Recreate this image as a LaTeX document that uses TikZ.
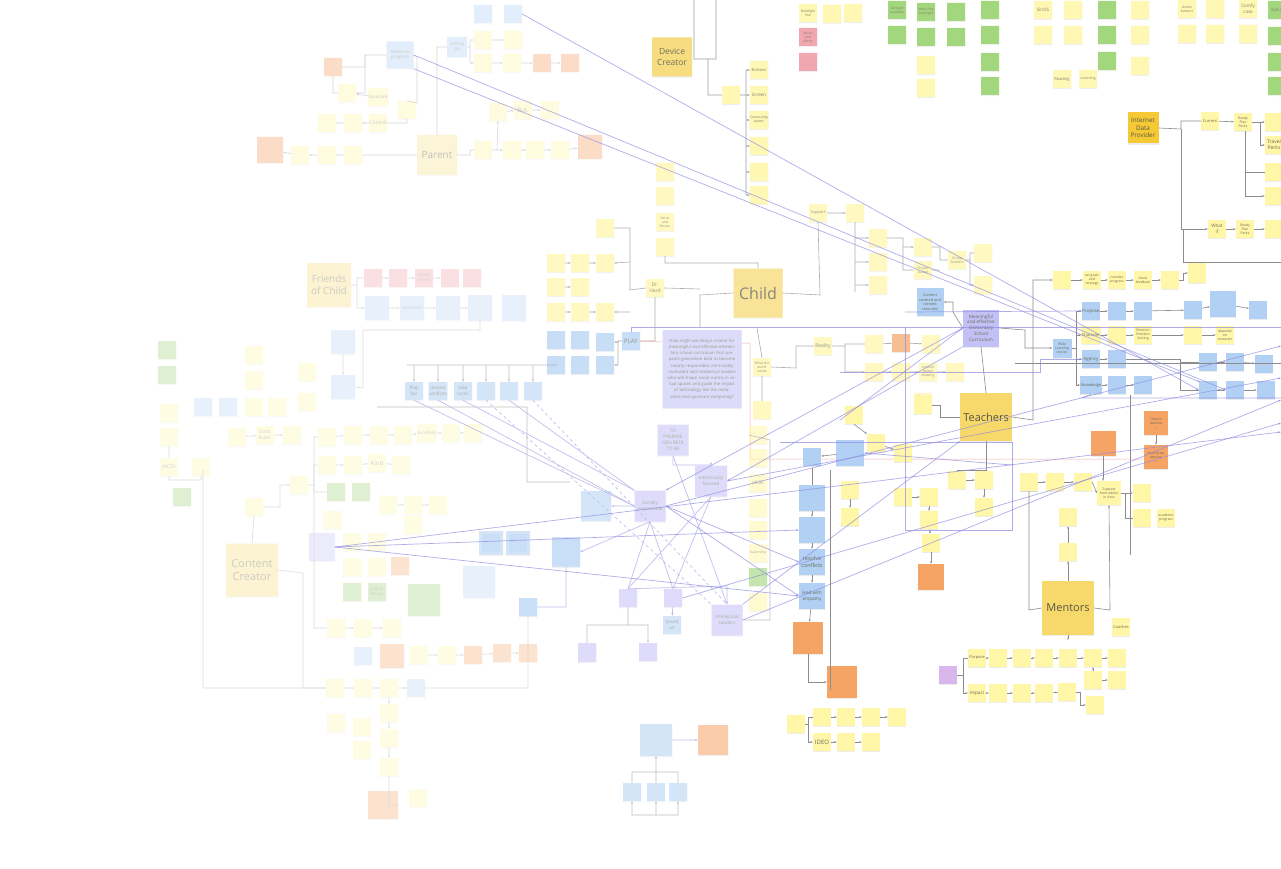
\documentclass[tikz,border=0pt]{standalone}
\usepackage{fontspec}
\setmainfont{Open Sans}
\usepackage{tikz}
\usetikzlibrary{shadows,arrows.meta}

\definecolor{yel}{HTML}{FFF6A8}
\definecolor{gold}{HTML}{F7D86A}
\definecolor{deepgold}{HTML}{F5C935}
\definecolor{blu}{HTML}{B1D0F4}
\definecolor{lav}{HTML}{C3C0F6}
\definecolor{org}{HTML}{F6A366}
\definecolor{grn}{HTML}{94D067}
\definecolor{rd}{HTML}{EF98A3}
\definecolor{pur}{HTML}{D9B6EC}
\definecolor{wiregray}{HTML}{8C8C8C}
\definecolor{vio}{HTML}{8E8BE0}
\definecolor{ink}{HTML}{6B6B55}
\definecolor{redline}{HTML}{F08A8A}

\tikzset{
  note/.style={fill=yel, minimum width=18pt, minimum height=18pt, inner sep=.5pt,
    align=center, text=ink, font=\fontsize{3.4}{3.9}\selectfont,
    drop shadow={opacity=.15,shadow xshift=0pt,shadow yshift=-1.2pt}},
  bnote/.style={note, fill=blu},
  lnote/.style={note, fill=lav},
  onote/.style={note, fill=org},
  gnote/.style={note, fill=grn},
  rnote/.style={note, fill=rd},
  big/.style={note, fill=gold, text=ink!80!black},
  wire/.style={draw=wiregray, line width=.6pt},
  arr/.style={wire, -{Stealth[length=2.5pt]}},
  vline/.style={draw=vio, line width=.7pt},
  varr/.style={vline, -{Stealth[length=3pt]}},
}

\begin{document}
\begin{tikzpicture}[x=1pt,y=-1pt]
\useasboundingbox (0,0) rectangle (1281,869);
\fill[white] (0,0) rectangle (1281,869);

% far left, friends of child, content creator
\begin{scope}[transparency group, opacity=.3]
\node[gnote] (lg1) at (167,350) {};
\node[gnote] (lg2) at (167,375) {};
\node[note] (ly1) at (169,413) {};
\node[note] (ly2) at (169,437) {};
\node[note, font=\fontsize{5}{6}\selectfont] (mctv) at (169,467) {MCTV};
\node[note] (ly3) at (201,467) {};
\node[gnote] (lg3) at (182,497) {};
\node[bnote] (lb1) at (203,407) {};
\node[bnote] (lb2) at (228,407) {};
\node[note] (ly4) at (254,355) {};
\node[note] (ly5) at (254,380) {};
\node[note] (ly6) at (254,407) {};
\node[note] (ly7) at (277,407) {};
\node[note] (ly8) at (307,372) {};
\node[note] (ly9) at (307,402) {};
\node[note] (ly10) at (237,437) {};
\node[note, font=\fontsize{5}{6}\selectfont] (rules) at (265,435) {Strict\\Rules};
\node[note] (ly11) at (292,435) {};
\node[note] (ly12) at (254,507) {};
\node[note] (ly13) at (299,485) {};
\node[big, minimum width=52pt, minimum height=53pt, font=\fontsize{11}{13}\selectfont] (cc) at (252,570) {Content\\Creator};

\node[big, minimum width=44pt, minimum height=44pt, font=\fontsize{10}{12}\selectfont] (foc) at (329,285) {Friends\\of Child};
\node[rnote] (fr1) at (373,278) {};
\node[rnote] (fr2) at (398,278) {};
\node[rnote, font=\fontsize{4.5}{5.5}\selectfont] (fr3) at (424,278) {share\\many};
\node[rnote] (fr4) at (450,278) {};
\node[rnote] (fr5) at (472,278) {};
\node[bnote, minimum width=24pt, minimum height=24pt] (fb1) at (377,308) {};
\node[bnote, minimum width=24pt, minimum height=24pt, font=\fontsize{4.5}{5.5}\selectfont] (fb2) at (412,308) {activated};
\node[bnote, minimum width=24pt, minimum height=24pt] (fb3) at (448,308) {};
\node[bnote, minimum width=24pt, minimum height=26pt] (fb4) at (480,308) {};
\node[bnote, minimum width=24pt, minimum height=26pt] (fb5) at (514,308) {};
\node[bnote, minimum width=24pt, minimum height=24pt] (fb6) at (343,342) {};
\node[bnote, minimum width=24pt, minimum height=24pt] (fb7) at (343,387) {};

\node[note] (fy1) at (327,437) {};
\node[note] (fy2) at (353,435) {};
\node[note] (fy3) at (379,435) {};
\node[note] (fy4) at (403,435) {};
\node[note, font=\fontsize{4.5}{5.5}\selectfont] (exc) at (427,433) {Excellent};
\node[note] (fy5) at (451,433) {};
\node[note] (fy6) at (473,433) {};
\node[note] (fy7) at (327,465) {};
\node[note] (fy8) at (353,465) {};
\node[note, font=\fontsize{6}{7}\selectfont] (kind) at (377,463) {Kind};
\node[note] (fy9) at (401,465) {};
\node[gnote] (fg1) at (336,492) {};
\node[gnote] (fg2) at (361,492) {};
\node[note] (fy10) at (388,505) {};
\node[note] (fy11) at (413,505) {};
\node[note] (fy12) at (438,505) {};
\node[note] (fy13) at (413,525) {};
\node[note] (fy14) at (332,520) {};

\node[lnote, minimum width=26pt, minimum height=28pt] (found) at (322,547) {};
\node[note] (cy1) at (352,542) {};
\node[note] (cy2) at (377,542) {};
\node[note] (cy3) at (352,567) {};
\node[note] (cy4) at (377,567) {};
\node[onote] (co1) at (400,566) {};
\node[gnote] (cg1) at (352,592) {};
\node[gnote, font=\fontsize{4.5}{5.5}\selectfont] (badge) at (377,592) {Digital\\Badge};
\node[gnote, minimum width=32pt, minimum height=32pt] (cg2) at (424,600) {};
\node[note] (cy5) at (336,628) {};
\node[note] (cy6) at (363,628) {};
\node[note] (cy7) at (392,628) {};
\node[bnote] (cb1) at (363,656) {};
\node[onote, minimum width=24pt, minimum height=24pt] (co2) at (392,656) {};
\node[note] (cy8) at (419,655) {};
\node[note] (cy9) at (447,655) {};
\node[onote] (co3) at (473,655) {};
\node[onote] (co4) at (502,653) {};
\node[onote] (co5) at (528,653) {};
\node[note] (cy10) at (335,688) {};
\node[note] (cy11) at (363,688) {};
\node[note] (cy12) at (389,688) {};
\node[bnote] (cb2) at (416,688) {};
\node[note] (cy13) at (389,713) {};
\node[note] (cy14) at (389,738) {};
\node[note] (cy15) at (389,767) {};
\node[note] (cy16) at (336,723) {};
\node[note] (cy17) at (362,727) {};
\node[note] (cy18) at (362,750) {};
\node[onote, minimum width=30pt, minimum height=28pt] (co6) at (383,805) {};
\node[note] (cy19) at (418,798) {};
\node[bnote] (cb3) at (491,543) {};
\node[bnote] (cb4) at (518,543) {};
\node[bnote, minimum width=32pt, minimum height=32pt] (cb5) at (479,582) {};
\node[bnote] (cb6) at (528,607) {};
\node[bnote, minimum width=28pt, minimum height=28pt] (cb7) at (566,552) {};

\draw[wire] (foc.east) -- (357,285) |- (fr1.west);
\draw[arr] (357,285) |- (fb1.west);
\draw[arr] (fr1) -- (fr2); \draw[arr] (fr2) -- (fr3); \draw[arr] (fr3) -- (fr4);
\draw[arr] (fb1) -- (fb2); \draw[arr] (fb2) -- (fb3); \draw[arr] (fb3) -- (fb4);
\draw[arr] (fb6) -- (fb7);
\draw[wire] (fb7.east) -- (363,388) -- (363,330) -| (fb4.south);
\draw[wire] (cc.north) -- (ly12.south);
\draw[arr] (ly12.east) -- (280,507) |- (ly13.west);
\draw[wire] (203,470) -- (203,688) -- (cy10.west);
\draw[arr] (cy10) -- (cy11); \draw[arr] (cy11) -- (cy12); \draw[arr] (cy12) -- (cb2);
\draw[wire] (cb2.east) -- (528,688) -- (cb6.south);
\draw[wire] (cc.east) -- (303,573) |- (cy10.west);
\draw[arr] (cy12) -- (cy13); \draw[arr] (cy13) -- (cy14); \draw[arr] (cy14) -- (cy15);
\draw[arr] (cy15.south) |- (co6.east);
\draw[arr] (cy8) -- (cy9); \draw[arr] (cy9) -- (co3); \draw[arr] (co3) -- (co4); \draw[arr] (co4) -- (co5);
\draw[arr] (cy5) -- (cy6); \draw[arr] (cy6) -- (cy7);
\draw[arr] (fy1) -- (fy2); \draw[arr] (fy2) -- (fy3); \draw[arr] (fy3) -- (fy4); \draw[arr] (fy4) -- (exc);
\draw[arr] (exc) -- (fy5); \draw[arr] (fy5) -- (fy6);
\draw[arr] (fy7) -- (fy8); \draw[arr] (fy8) -- (kind); \draw[arr] (kind) -- (fy9);
\draw[wire] (ly13.east) -- (314,485) |- (fy1.west);
\draw[wire] (314,485) |- (fy7.west);
\draw[wire] (314,485) |- (fg1.west);
\draw[wire] (314,485) |- (cy5.west);
\draw[arr] (fy10) -- (fy11); \draw[arr] (fy11) -- (fy12);
\draw[arr] (ly10) -- (rules); \draw[arr] (rules) -- (ly11);
\draw[wire] (mctv.south) -- (169,480) -| (ly3.south);
\draw[wire] (ly2) -- (mctv);
\end{scope}

% parent
\begin{scope}[transparency group, opacity=.36]
\node[big, minimum width=40pt, minimum height=40pt, fill=gold!75, font=\fontsize{10}{12}\selectfont] (par) at (437,155) {Parent};
\node[bnote, minimum width=27pt, minimum height=27pt, font=\fontsize{4.5}{5.5}\selectfont] (msr) at (400,55) {Measure\\progress};
\node[bnote, minimum width=20pt, minimum height=20pt, font=\fontsize{4.5}{5.5}\selectfont] (let) at (457,47) {Letting\\go};
\node[bnote] (pt1) at (483,14) {};
\node[bnote] (pt2) at (513,14) {};
\node[note] (pt3) at (483,40) {};
\node[note] (pt4) at (513,40) {};
\node[note] (pt5) at (483,63) {};
\node[note] (pt6) at (512,63) {};
\node[onote] (po1) at (542,63) {};
\node[onote] (po2) at (570,63) {};
\node[onote] (po3) at (333,67) {};
\node[note] (py1) at (347,93) {};
\node[note, font=\fontsize{4.5}{5.5}\selectfont] (strc) at (378,97) {Structure};
\node[note] (py2) at (407,110) {};
\node[note, font=\fontsize{5}{6}\selectfont] (ctl) at (378,123) {Control};
\node[note] (py3) at (353,123) {};
\node[note] (py4) at (327,123) {};
\node[note] (pl1) at (353,155) {};
\node[note] (pl2) at (327,155) {};
\node[note] (pl3) at (300,155) {};
\node[onote, minimum width=26pt, minimum height=26pt] (po4) at (270,150) {};
\node[note] (pr1) at (483,150) {};
\node[note] (pr2) at (512,150) {};
\node[note] (pr3) at (535,150) {};
\node[note] (pr4) at (560,150) {};
\node[onote, minimum width=24pt, minimum height=24pt] (po5) at (590,147) {};
\node[note] (pb1) at (498,112) {};
\node[note, font=\fontsize{6}{7}\selectfont] (but) at (523,110) {But.};
\node[note] (pb2) at (550,110) {};

\draw[wire] (par.north) |- (let.west);
\draw[wire] (let.east) -- (470,47) |- (pt3.west);
\draw[arr] (470,47) |- (pt5.west);
\draw[arr] (pt5) -- (pt6); \draw[arr] (pt6) -- (po1); \draw[arr] (po1) -- (po2);
\draw[arr] (pt3) -- (pt4);
\draw[wire] (msr.east) -- (417,57) -- (417,103) -- (py2.north);
\draw[wire] (msr.west) -- (365,55) |- (po3.east);
\draw[arr] (365,55) |- (py1.east);
\draw[wire] (py1.west) -- (333,93) -- (po3.south);
\draw[arr] (strc) -- (py1);
\draw[arr] (ctl) -- (py3); \draw[arr] (py3) -- (py4);
\draw[wire] (py2.south) -- (407,123) -- (ctl.east);
\draw[wire] (par.west) -- (pl1.east);
\draw[arr] (pl1) -- (pl2); \draw[arr] (pl2) -- (pl3); \draw[arr] (pl3) -- (po4);
\draw[wire] (par.east) -- (470,155) |- (pr1.west);
\draw[arr] (pr1) -- (pr2); \draw[arr] (pr2) -- (pr3); \draw[arr] (pr3) -- (pr4); \draw[arr] (pr4) -- (po5);
\draw[arr] (497,150) -- (pb1.south);
\draw[arr] (pb1) -- (but); \draw[arr] (but) -- (pb2);
\end{scope}

% device creator and the feature rows at the top
\begin{scope}[transparency group, opacity=.85]
\node[big, minimum width=40pt, minimum height=39pt, font=\fontsize{8.5}{10.5}\selectfont] (devc) at (672,57) {Device\\Creator};
\node[note] (dexp) at (731,95) {};
\node[note, font=\fontsize{4}{5}\selectfont] (dbtn) at (759,70) {Buttons};
\node[note, font=\fontsize{4.5}{5.5}\selectfont] (dscr) at (759,95) {Screen};
\node[note] (dcmp) at (759,120) {Computing\\power};
\node[note] (dd4) at (759,146) {};
\node[note] (dd5) at (759,172) {};
\node[note] (dd6) at (759,195) {};
\draw[wire] (694,0) |- (716,59) -- (716,0);
\draw[wire] (708,59) |- (dexp.west);
\draw[wire] (dexp.east) -- (746,95);
\draw[wire] (746,70) -- (746,195);
\draw[arr] (746,70) -- (dbtn.west);
\draw[arr] (746,95) -- (dscr.west);
\draw[arr] (746,120) -- (dcmp.west);
\draw[arr] (746,146) -- (dd4.west);
\draw[arr] (746,172) -- (dd5.west);
\draw[arr] (746,195) -- (dd6.west);

\node[note] (bkl) at (808,13) {Backlight\\line};
\node[rnote] (mus) at (808,37) {Music\\and\\Alerts};
\node[rnote] (mu2) at (808,62) {};
\node[note] (tp1) at (832,14) {};
\node[note] (tp2) at (853,13) {};
\node[gnote] (sun) at (897,10) {Sunlight\\readable};
\node[gnote] (sn2) at (897,35) {};
\node[gnote] (mfb) at (926,12) {Make free\\backlight};
\node[gnote] (mf2) at (926,37) {};
\node[note] (mf3) at (926,65) {};
\node[note] (mf4) at (926,88) {};
\node[gnote] (pap) at (956,12) {};
\node[gnote] (pa2) at (956,37) {};
\node[gnote] (g1) at (990,10) {};
\node[gnote] (g2) at (990,35) {};
\node[gnote] (g3) at (990,62) {};
\node[gnote] (g4) at (990,86) {};
\node[note, font=\fontsize{4.5}{5.5}\selectfont] (sos) at (1043,10) {SinOS};
\node[note] (so2) at (1043,35) {};
\node[note] (tp3) at (1073,10) {};
\node[note] (tp4) at (1073,35) {};
\node[note, font=\fontsize{4}{5}\selectfont] (rdg) at (1062,79) {Reading};
\node[note] (scn) at (1088,79) {screening};
\node[gnote] (g5) at (1107,10) {};
\node[gnote] (g6) at (1107,35) {};
\node[gnote] (g7) at (1107,61) {};
\node[note] (tp5) at (1140,10) {};
\node[note] (tp6) at (1140,35) {};
\node[note] (tp7) at (1140,66) {};
\node[note] (act) at (1187,9) {Action\\buttons};
\node[note] (ac2) at (1187,34) {};
\node[note] (tp8) at (1215,9) {};
\node[note] (tp9) at (1215,34) {};
\node[note, font=\fontsize{4.5}{5.5}\selectfont] (cmf) at (1248,9) {Comfy\\case};
\node[note] (cm2) at (1248,34) {};
\node[gnote, font=\fontsize{4.5}{5.5}\selectfont] (sty) at (1277,10) {Stylus};
\node[gnote] (st2) at (1277,36) {};
\node[gnote] (st3) at (1277,62) {};
\node[gnote] (st4) at (1277,86) {};
\end{scope}

% child
\begin{scope}[transparency group, opacity=.7]
\node[big, minimum width=49pt, minimum height=49pt, font=\fontsize{16}{18}\selectfont] (chd) at (758,293) {Child};
\node[note, font=\fontsize{5}{6}\selectfont] (drh) at (655,288) {Dr.\\Hard};
\node[bnote, font=\fontsize{6}{7}\selectfont] (play) at (631,341) {PLAY};
\node[lnote, fill=lav!80, minimum width=79pt, minimum height=78pt, text width=70pt, font=\fontsize{4.2}{6.2}\selectfont] (hmw) at (702,369) {How might we design criteria for meaningful and effective elementary school curriculum that prepares generation beta to become socially responsible, intrinsically motivated and intellectual leaders who will shape social norms in virtual spaces and guide the impact of technology like the metaverse and quantum computing?};
\node[note] (wwn) at (762,367) {What the\\world\\needs};
\node[note] (wn2) at (762,410) {};
\node[note, font=\fontsize{5}{6}\selectfont] (real) at (823,346) {Reality};
\node[note] (cr1) at (874,344) {};
\node[onote] (co7) at (901,343) {};
\node[note] (cr2) at (931,344) {};
\node[note] (cr3) at (874,372) {};
\node[note] (cr4) at (901,372) {};
\node[note] (cr5) at (928,372) {a mood\\board\\drawing};
\node[note] (cr6) at (955,372) {};
\node[note] (cu1) at (665,172) {};
\node[note] (cu2) at (665,196) {};
\node[note] (cu3) at (665,222) {Serve\\and\\Return};
\node[note] (cu4) at (665,247) {};
\node[note] (cl1) at (605,228) {};
\node[note] (cl2) at (556,263) {};
\node[note] (cl3) at (580,263) {};
\node[note] (cl4) at (605,263) {};
\node[note] (cl5) at (556,287) {};
\node[note] (cl6) at (580,287) {};
\node[note] (cl7) at (556,312) {};
\node[note] (cl8) at (580,312) {};
\node[note] (cl9) at (605,312) {};
\node[bnote] (cb8) at (556,340) {};
\node[bnote] (cb9) at (580,340) {};
\node[bnote] (cb10) at (605,342) {};
\node[bnote] (cb11) at (556,365) {};
\node[bnote] (cb12) at (580,365) {};
\node[bnote] (cb13) at (605,365) {};
\node[note, font=\fontsize{4}{5}\selectfont] (sup) at (818,213) {Support};
\node[note] (sp1) at (855,213) {};
\node[note] (ct1) at (878,238) {};
\node[note] (ct2) at (878,262) {};
\node[note] (ct3) at (878,285) {};
\node[note] (ct4) at (923,247) {};
\node[note] (pjb) at (923,270) {Project\\based};
\node[note] (gbd) at (957,260) {Group\\Builders};
\node[note] (ct5) at (983,253) {};
\node[note] (ct6) at (983,285) {};
\node[note] (ct7) at (923,402) {Typical\\school\\day};

\draw[wire] (chd.east) -- (820,295) -- (sup.south);
\draw[arr] (sup) -- (sp1);
\draw[wire] (sp1.south) -- (855,292);
\draw[arr] (855,238) -- (ct1.west);
\draw[arr] (855,262) -- (ct2.west);
\draw[arr] (855,285) -- (ct3.west);
\draw[wire] (ct1.east) -- (903,238) |- (pjb.west);
\draw[arr] (903,247) -- (ct4.west);
\draw[wire] (ct4.east) -- (940,247) |- (gbd.west);
\draw[wire] (pjb.east) -- (940,270);
\draw[wire] (gbd.east) -- (970,260) |- (ct5.west);
\draw[arr] (970,260) |- (ct6.west);
\draw[wire] (chd.west) -- (700,295) -- (700,327);
\draw[wire] (drh.east) -- (700,289);
\draw[wire] (chd.north) -- (758,263) -| (cu4.south);
\draw[wire] (drh.west) -- (630,290) -- (630,228) -- (cl1.east);
\draw[arr] (630,262) -- (cl4.east);
\draw[arr] (630,312) -- (cl9.east);
\draw[wire] (drh.south) -- (655,341) -- (play.east);
\draw[arr] (play.west) -- (618,341) |- (cb10.east);
\draw[arr] (618,341) |- (cb13.east);
\draw[arr] (cl2) -- (cl3); \draw[arr] (cl3) -- (cl4);
\draw[arr] (cl5) -- (cl6);
\draw[arr] (cl7) -- (cl8); \draw[arr] (cl8) -- (cl9);
\draw[wire] (757,328) -- (wwn.north);
\draw[wire] (wwn.south) -- (wn2.north);
\draw[wire] (real.west) -- (796,346) -- (796,368) -- (wwn.east);
\draw[wire] (real.east) -- (845,346) |- (cr1.west);
\draw[arr] (845,346) |- (cr3.west);
\draw[arr] (cr1) -- (co7); \draw[arr] (co7) -- (cr2);
\draw[arr] (cr3) -- (cr4); \draw[arr] (cr4) -- (cr5); \draw[arr] (cr5) -- (cr6);
\draw[redline, line width=.5pt] (play.east) -- (hmw.west |- 0,342);
\draw[redline, line width=.5pt] (hmw.east |- 0,343) -- (750,343) -- (750,459) -- (1143,459);
\end{scope}

% centre, lower: the three goals
\begin{scope}[transparency group, opacity=.55]
\node[lnote, minimum width=31pt, minimum height=31pt, font=\fontsize{4.6}{5.8}\selectfont] (prep) at (673,440) {TO\\PREPARE\\GEN BETA\\TO BE};
\node[lnote, minimum width=32pt, minimum height=31pt, font=\fontsize{4.6}{5.8}\selectfont] (intr) at (711,481) {Intrinsically\\focused};
\node[lnote, minimum width=31pt, minimum height=31pt, font=\fontsize{4.6}{5.8}\selectfont] (soc) at (650,506) {Socially\\responsible};
\node[lnote, minimum width=31pt, minimum height=31pt, font=\fontsize{4.6}{5.8}\selectfont] (intl) at (727,620) {Intellectual\\Leaders};
\node[lnote] (gc1) at (628,598) {};
\node[lnote] (gc2) at (673,598) {};
\node[bnote, font=\fontsize{4.6}{5.6}\selectfont] (bas) at (672,625) {based\\on};
\node[lnote] (gc3) at (587,652) {};
\node[lnote] (gc4) at (648,652) {};
\node[bnote, minimum width=30pt, minimum height=30pt] (fsv) at (596,506) {};
\node[bnote, minimum width=28pt, minimum height=30pt] (fsq) at (566,552) {};
\node[bnote, font=\fontsize{4.6}{5.6}\selectfont] (pf) at (414,391) {Play\\fair};
\node[bnote, font=\fontsize{4.6}{5.6}\selectfont] (rc) at (438,391) {resolve\\conflicts};
\node[bnote, font=\fontsize{4.6}{5.6}\selectfont] (tt) at (463,391) {take\\turns};
\node[bnote] (rw4) at (486,391) {};
\node[bnote] (rw5) at (509,391) {};
\node[bnote] (rw6) at (533,391) {};
\node[bnote, minimum width=24pt, minimum height=24pt] (sb1) at (491,543) {};
\node[bnote, minimum width=24pt, minimum height=24pt] (sb2) at (518,543) {};
\node[bnote] (sb3) at (528,607) {};
\node[lnote] (sb4) at (587,653) {};
\node[bnote, minimum width=32pt, minimum height=32pt] (vpd) at (656,740) {};
\node[onote, minimum width=30pt, minimum height=30pt] (vpo) at (713,740) {};
\node[bnote] (vp1) at (632,792) {};
\node[bnote] (vp2) at (656,792) {};
\node[bnote] (vp3) at (678,792) {};
\coordinate (vpb) at (656,815);
\node[note] (ys1) at (758,435) {};
\node[note] (ys2) at (758,458) {};
\node[note, font=\fontsize{5}{6}\selectfont] (skl) at (758,483) {skills};
\node[note] (ys3) at (758,508) {};
\node[note] (ys4) at (758,530) {};
\node[note] (ldr) at (758,553) {leadership};
\node[gnote] (ys5) at (758,577) {};
\node[note] (ys6) at (758,602) {};

\draw[wire] (407,365) -- (557,365);
\foreach \n in {pf,rc,tt,rw4,rw5,rw6} \draw[arr] (\n.north |- 0,365) -- (\n.north);
\draw[wire] (377,407) -- (527,407) -- (527,482) -- (570,482);
\draw[varr] (prep.south) -- (673,465) -| (intr.north);
\draw[varr] (prep.south) -- (intl.north);
\draw[vline] (soc.south) -- (gc1.north);
\draw[vline] (soc.south) -- (gc2.north);
\draw[vline] (intr.south) -- (gc1.north);
\draw[vline] (intr.south) -- (gc2.north);
\draw[varr] (gc1.north) -- (727,586) -- (intl.north);
\draw[varr] (gc2) -- (bas);
\draw[wire] (gc1.south) -- (628,625) -- (587,625) -- (gc3.north);
\draw[arr] (628,625) -- (648,625) -- (gc4.north);
\draw[varr] (soc.west) -- (fsv.east);
\draw[varr] (soc.south) -- (fsq.east);
\draw[vline] (pf.south) -- (soc.west);
\draw[vline] (rc.south) -- (soc.west);
\draw[vline] (tt.south) -- (soc.north west);
\draw[vline] (rw5.south) -- (soc.north west);
\draw[vline, dashed] (rw4.south) -- (intl.north west);
\draw[vline, dashed] (rw6.south) -- (intl.north);
\draw[vline] (fsq.south) |- (sb3.east);
\draw[varr] (vpd) -- (vpo);
\draw[arr] (vp2.north) -- (vpd.south);
\draw[wire] (vp1.north) -- (632,772) -- (678,772) -- (vp3.north);
\draw[arr] (vpb) -| (vp1.south);
\draw[arr] (vpb) -- (vp2.south);
\draw[arr] (vpb) -| (vp3.south);
\draw[wire] (intl.east) -- (770,620) -- (770,440) -- (ys1.west);
\end{scope}

% teachers, curriculum and mentors
\begin{scope}
\node[lnote, minimum width=36pt, minimum height=37pt, font=\fontsize{4.6}{5.8}\selectfont] (mean) at (981,328) {Meaningful\\and effective\\elementary\\School\\Curriculum};
\node[bnote, minimum width=27pt, minimum height=28pt, font=\fontsize{3.8}{4.6}\selectfont] (ccv) at (930,302) {Content\\covered and\\content\\returned};
\node[bnote, minimum width=19pt, minimum height=19pt] (wide) at (1062,348) {Wide\\Learning\\stories};
\node[big, minimum width=52pt, minimum height=48pt, font=\fontsize{11}{13}\selectfont] (tea) at (986,417) {Teachers};
\node[note] (tr1) at (1062,280) {};
\node[note] (tr2) at (1092,280) {set goals\\and\\strategy};
\node[note] (tr3) at (1117,280) {monitor\\progress};
\node[note] (tr4) at (1143,280) {check\\feedback};
\node[note] (tr5) at (1170,280) {};
\node[note, minimum height=20pt] (tr6) at (1197,273) {};
\node[bnote, font=\fontsize{4.4}{5.4}\selectfont] (pur) at (1091,311) {Purpose};
\node[bnote] (pu2) at (1117,311) {};
\node[bnote] (pu3) at (1143,311) {};
\node[bnote] (pu4) at (1193,310) {};
\node[bnote, minimum width=26pt, minimum height=26pt] (pu5) at (1223,304) {};
\node[bnote] (pu6) at (1258,310) {};
\node[note, font=\fontsize{4}{5}\selectfont] (chr) at (1091,335) {Character};
\node[note] (ch2) at (1117,335) {};
\node[note] (ch3) at (1143,335) {Emotion\\Problem\\Solving};
\node[note] (ch4) at (1193,335) {};
\node[note] (ch5) at (1225,335) {depends\\on\\character};
\node[bnote, font=\fontsize{4.4}{5.4}\selectfont] (agn) at (1091,359) {Agency};
\node[bnote] (ag2) at (1117,359) {};
\node[bnote, font=\fontsize{4}{5}\selectfont] (knw) at (1091,385) {Knowledge};
\node[bnote] (kn2) at (1117,385) {};
\node[bnote] (kn3) at (1143,385) {};
\node[bnote] (rb1) at (1208,362) {};
\node[bnote] (rb2) at (1235,362) {};
\node[bnote] (rb3) at (1264,364) {};
\node[bnote] (rb4) at (1208,390) {};
\node[bnote] (rb5) at (1235,390) {};
\node[bnote] (rb6) at (1266,390) {};

\node[onote, minimum width=24pt, minimum height=24pt] (ot1) at (1156,423) {How to\\develop\\...};
\node[onote, minimum width=24pt, minimum height=24pt] (ot2) at (1156,457) {How to we\\develop\\...};
\node[onote, minimum width=25pt, minimum height=25pt] (ot3) at (1103,443) {};
\node[note, minimum width=24pt, minimum height=24pt] (sfa) at (1109,493) {Support\\from adults\\in class};
\node[note] (sa1) at (1142,493) {};
\node[note] (sa2) at (1142,518) {};
\node[note] (acp) at (1166,518) {academic\\progress};
\node[note] (sa3) at (1029,482) {};
\node[note] (sa4) at (1055,482) {};
\node[note] (sa5) at (1083,482) {};
\node[big, minimum width=52pt, minimum height=54pt, font=\fontsize{11}{13}\selectfont] (mnt) at (1068,608) {Mentors};
\node[note] (mn1) at (1068,517) {};
\node[note] (mn2) at (1068,552) {};
\node[note, font=\fontsize{4}{5}\selectfont] (coa) at (1121,627) {Coaches};

\node[bnote] (bc1) at (812,457) {};
\node[bnote, minimum width=28pt, minimum height=26pt] (bc2) at (850,453) {};
\node[bnote, minimum width=26pt, minimum height=26pt] (bc3) at (812,498) {};
\node[bnote, minimum width=26pt, minimum height=26pt] (bc4) at (812,530) {};
\node[bnote, minimum width=26pt, minimum height=26pt, font=\fontsize{5.5}{6.6}\selectfont] (rsv) at (812,562) {resolve\\conflicts};
\node[bnote, minimum width=26pt, minimum height=26pt, font=\fontsize{4.6}{5.6}\selectfont] (lwe) at (812,596) {lead with\\empathy};
\node[onote, minimum width=30pt, minimum height=32pt] (ob1) at (808,638) {};
\node[onote, minimum width=30pt, minimum height=32pt] (ob2) at (842,682) {};
\node[note] (yt1) at (854,415) {};
\node[note] (yt2) at (923,405) {};
\node[note] (yt3) at (876,443) {};
\node[note] (yt4) at (903,453) {};
\node[note] (yt5) at (957,480) {};
\node[note] (yt6) at (984,480) {};
\node[note] (yt7) at (984,507) {};
\node[note] (yt8) at (903,497) {};
\node[note] (yt9) at (929,497) {};
\node[note] (yt10) at (929,520) {};
\node[note] (yt11) at (931,543) {};
\node[onote, minimum width=26pt, minimum height=26pt] (ob3) at (931,577) {};
\node[note] (yt12) at (850,490) {};
\node[note] (yt13) at (850,517) {};
\node[note] (yt14) at (1029,482) {};

\node[note] (bt1) at (796,724) {};
\node[note] (bt2) at (822,717) {};
\node[note] (bt3) at (846,717) {};
\node[note] (bt4) at (871,717) {};
\node[note] (bt5) at (897,717) {};
\node[note, font=\fontsize{6}{7}\selectfont] (ideo) at (822,742) {IDEO};
\node[note] (bt6) at (846,742) {};
\node[note] (bt7) at (871,742) {};

\node[note, fill=pur] (pp) at (948,675) {};
\node[note, font=\fontsize{4}{5}\selectfont] (pps) at (977,658) {Purpose};
\node[note] (pq1) at (998,658) {};
\node[note] (pq2) at (1022,658) {};
\node[note] (pq3) at (1044,658) {};
\node[note] (pq4) at (1068,658) {};
\node[note] (pq5) at (1093,658) {};
\node[note] (pq6) at (1117,658) {};
\node[note] (pq7) at (1093,680) {};
\node[note] (pq8) at (1117,680) {};
\node[note, font=\fontsize{4.5}{5.5}\selectfont] (imp) at (977,693) {Impact};
\node[note] (pi1) at (998,693) {};
\node[note] (pi2) at (1022,693) {};
\node[note] (pi3) at (1044,693) {};
\node[note] (pi4) at (1067,692) {};
\node[note] (pi5) at (1095,705) {};

% connectors
\draw[wire] (mean.south) -- (tea.north);
\draw[arr] (mean.east) -- (1025,330) |- (wide.west);
\draw[arr] (mean.west) -- (953,312) |- (ccv.east);
\draw[wire] (wide.east) -- (1076,348);
\draw[wire] (1076,311) -- (1076,385);
\draw[arr] (1076,311) -- (pur.west);
\draw[arr] (1076,335) -- (chr.west);
\draw[arr] (1076,359) -- (agn.west);
\draw[arr] (1076,385) -- (knw.west);
\draw[arr] (tea.east) -- (1033,420) |- (tr1.west);
\draw[arr] (tr1) -- (tr2); \draw[arr] (tr2) -- (tr3); \draw[arr] (tr3) -- (tr4); \draw[arr] (tr4) -- (tr5);
\draw[arr] (tr5.east) -- (1183,280) |- (tr6.west);
\draw[arr] (pur) -- (pu2); \draw[arr] (pu2) -- (pu3); \draw[arr] (pu3) -- (pu4); \draw[arr] (pu4) -- (pu5); \draw[arr] (pu5) -- (pu6);
\draw[arr] (chr) -- (ch2); \draw[arr] (ch2) -- (ch3); \draw[arr] (ch3) -- (ch4); \draw[arr] (ch4) -- (ch5);
\draw[arr] (agn) -- (ag2);
\draw[arr] (knw) -- (kn2); \draw[arr] (kn2) -- (kn3);
\draw[arr] (rb1) -- (rb2); \draw[arr] (rb2) -- (rb3);
\draw[arr] (rb4) -- (rb5); \draw[arr] (rb5) -- (rb6);
\draw[wire] (ag2.east) -- (1180,359) |- (rb4.west);
\draw[wire] (1180,362) -- (rb1.west);
\draw[wire] (1015,363) -- (1281,363);
\draw[wire] (1130,395) -- (1130,555);
\draw[arr] (ot1) -- (ot2);
\draw[arr] (ot3.south) -- (ot3.south |- sfa.north);
\draw[wire] (sfa.east) -- (1125,493) |- (sa2.west);
\draw[arr] (1125,493) -- (sa1.west);
\draw[arr] (sa3) -- (sa4); \draw[arr] (sa4) -- (sa5);
\draw[arr] (sa5.east) -- (sfa.west);
\draw[arr] (mnt.north) -- (mn2.south);
\draw[arr] (mn2.north) -- (mn1.south);
\draw[wire] (mnt.west) -- (1029,610) -- (yt14.south);
\draw[arr] (mnt.east) -- (1110,610) -- (sfa.south);
\draw[wire] (tea.west) -- (940,417) |- (yt2.east);
\draw[wire] (tea.south) -- (986,470) -| (yt5.north);
\draw[arr] (yt5) -- (yt6); \draw[arr] (yt6) -- (yt7);
\draw[arr] (yt8) -- (yt9);
\draw[arr] (yt9) -- (yt10); \draw[arr] (yt10) -- (yt11); \draw[arr] (yt11) -- (ob3);
\draw[arr] (yt1.south) -- (yt3.north west);
\draw[arr] (yt3) -- (yt4);
\draw[arr] (bc2) -- (bc1);
\draw[wire] (812,468) -- (bc3.north);
\draw[arr] (bc3) -- (bc4); \draw[arr] (bc4) -- (rsv); \draw[arr] (rsv) -- (lwe);
\draw[arr] (lwe) -- (ob1);
\draw[wire] (830,470) -- (830,690);
\draw[arr] (ob1.south) |- (ob2.west);
\draw[arr] (yt12) -- (yt13);
\draw[wire] (bt1.east) -- (808,724) |- (bt2.west);
\draw[arr] (808,724) |- (ideo.west);
\draw[arr] (bt2) -- (bt3); \draw[arr] (bt3) -- (bt4); \draw[arr] (bt4) -- (bt5);
\draw[arr] (ideo) -- (bt6); \draw[arr] (bt6) -- (bt7);
\draw[wire] (pp.east) -- (963,675) |- (pps.west);
\draw[arr] (963,675) |- (imp.west);
\draw[arr] (pps) -- (pq1); \draw[arr] (pq1) -- (pq2); \draw[arr] (pq2) -- (pq3); \draw[arr] (pq3) -- (pq4); \draw[arr] (pq4) -- (pq5); \draw[arr] (pq5) -- (pq6);
\draw[arr] (pq7) -- (pq8);
\draw[arr] (pq7.north) -- (pq5.south);
\draw[arr] (imp) -- (pi1); \draw[arr] (pi1) -- (pi2); \draw[arr] (pi2) -- (pi3); \draw[arr] (pi3) -- (pi4);
\draw[arr] (pi4.east) -- (1080,692) |- (pi5.west);
\draw[arr] (mnt.south) -- (1068,640);
\end{scope}

% internet data provider
\node[big, fill=deepgold, minimum width=31pt, minimum height=31pt, font=\fontsize{6.3}{7.6}\selectfont] (idp) at (1143,128) {Internet\\Data\\Provider};
\node[note, font=\fontsize{4}{5}\selectfont] (cur) at (1210,121) {Current};
\node[note] (rpp) at (1243,122) {Ready\\Plan\\Perks};
\node[note] (ip1) at (1274,122) {};
\node[note, font=\fontsize{5}{6}\selectfont] (trv) at (1274,145) {Travel\\Perks};
\node[note] (ip2) at (1274,172) {};
\node[note] (ip3) at (1274,196) {};
\node[note, font=\fontsize{4.6}{5.6}\selectfont] (wif) at (1217,229) {What\\if};
\node[note] (rpq) at (1245,229) {Ready\\Plan\\Perks};
\node[note] (ip4) at (1274,229) {};
\draw[wire] (idp.east) -- (1181,129) |- (cur.west);
\draw[arr] (1181,129) |- (wif.west);
\draw[arr] (cur) -- (rpp);
\draw[arr] (rpp) -- (ip1);
\draw[wire] (1245,131) |- (ip2.west);
\draw[arr] (1245,172) |- (ip3.west);
\draw[arr] (1260,122) |- (trv.west);
\draw[arr] (wif) -- (rpq);
\draw[arr] (rpq) -- (ip4);
\draw[wire] (1183,229) -- (1183,262) -- (1281,262);

% long links across the board
\begin{scope}[opacity=.7]
\draw[varr] (pt2.east) -- (rb4.west);
\draw[varr] (msr.east) -- (rb5.west);
\draw[varr] (msr.south east) -- (1200,382);
\draw[vline] (play.north) -- (631,327) -- (905,327) -- (905,530) -- (1012,530) -- (1012,442) -- (780,442);
\draw[varr] (905,312) -- (pur.west);
\draw[vline] (905,327) -- (1281,327);
\draw[varr] (mean.west) -- (soc.north east);
\draw[varr] (mean.south west) -- (intr.east);
\draw[varr] (soc.east) -- (1281,346);
\draw[varr] (soc.east) -- (rsv.west);
\draw[varr] (soc.east) -- (lwe.west);
\draw[varr] (intr.east) -- (1281,378);
\draw[varr] (intl.east) -- (1281,400);
\draw[varr] (gc2.east) -- (1281,423);
\draw[varr] (found.east) -- (1281,432);
\draw[varr] (found.east) -- (bc4.west);
\draw[varr] (found.east) -- (lwe.west);
\draw[varr] (intl.north east) -- (tea.south west);
\draw[varr] (840,420) -- (mean.west);
\draw[vline] (agn.west) -- (1040,359) -- (1040,372) -- (840,372);
\draw[vline] (knw.south) -- (1082,398) -- (1281,398);
\draw[varr] (1012,465) -- (bc2.east);
\end{scope}
\end{tikzpicture}
\end{document}
